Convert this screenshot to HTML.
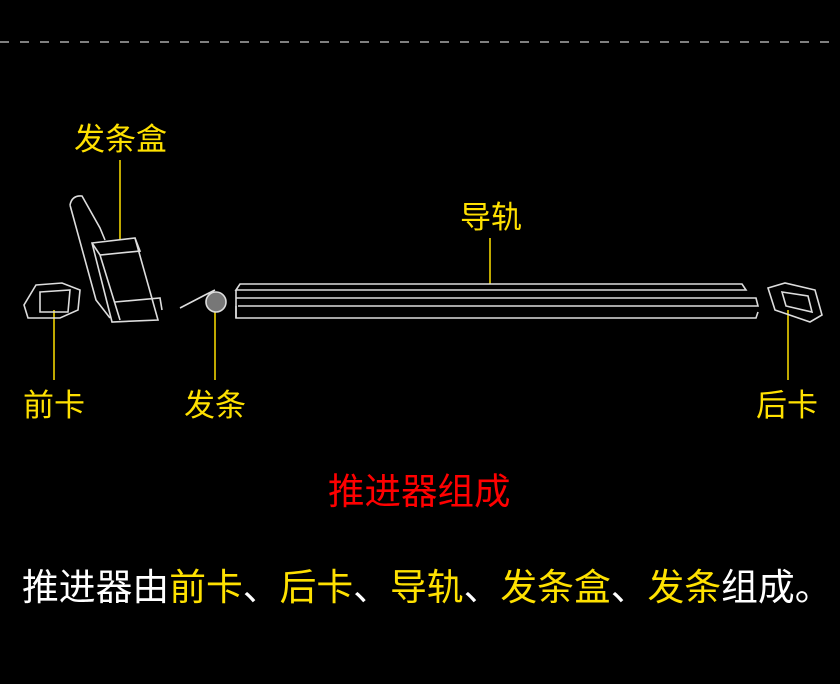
<!DOCTYPE html>
<html><head><meta charset="utf-8"><style>
html,body{margin:0;padding:0;background:#000;width:840px;height:684px;overflow:hidden}
.t{position:absolute;font-family:"Liberation Sans","Noto Sans CJK SC",sans-serif;white-space:nowrap;line-height:1}
.y{color:#ffe100;font-size:31px}
</style></head><body>
<svg width="840" height="684" style="position:absolute;left:0;top:0">
<line x1="0" y1="42" x2="840" y2="42" stroke="#aaa" stroke-width="1.5" stroke-dasharray="9,11"/>
<g stroke="#ffe100" stroke-width="1.5">
<line x1="120" y1="160" x2="120" y2="240"/>
<line x1="54" y1="310" x2="54" y2="380"/>
<line x1="215" y1="310" x2="215" y2="380"/>
<line x1="490" y1="238" x2="490" y2="284"/>
<line x1="788" y1="310" x2="788" y2="380"/>
</g>
<g fill="none" stroke="#ddd" stroke-width="1.6">
<path d="M240 284 L742 284 L746 290 L236 290 Z"/>
<path d="M236 298 L756 298 L758 306 L238 306"/>
<path d="M236 306 L236 318 L756 318 L758 312"/>
<line x1="236" y1="290" x2="236" y2="318"/>
<path d="M70 205 Q72 195 82 196 L100 228 L105 240 M70 205 L96 300 L110 318"/>
<path d="M92 243 L135 238 L158 320 L112 322 Z"/>
<path d="M92 243 L100 255 L140 251 L135 238 M100 255 L120 320"/>
<path d="M115 302 L160 298 L162 310"/>
<path d="M36 285 L62 283 L80 290 L78 310 L60 318 L28 318 L24 305 Z"/>
<path d="M40 292 L70 290 L68 312 L40 312 Z"/>
<path d="M180 308 L205 295 L215 290"/>
<circle cx="216" cy="302" r="10" fill="#777"/>
<path d="M768 288 L785 283 L815 290 L822 315 L810 322 L775 310 Z"/>
<path d="M782 292 L808 296 L812 312 L786 306 Z"/>
</g>
</svg>
<div class="t y" style="left:74px;top:124px">发条盒</div>
<div class="t y" style="left:460px;top:202px">导轨</div>
<div class="t y" style="left:23px;top:390px">前卡</div>
<div class="t y" style="left:184px;top:390px">发条</div>
<div class="t y" style="left:756px;top:390px">后卡</div>
<div class="t" style="left:328px;top:474px;color:#ff0000;font-size:36.5px">推进器组成</div>
<div class="t" style="left:22px;top:570px;font-size:36.8px;color:#fff">推进器由<span style="color:#ffe100">前卡</span>、<span style="color:#ffe100">后卡</span>、<span style="color:#ffe100">导轨</span>、<span style="color:#ffe100">发条盒</span>、<span style="color:#ffe100">发条</span>组成。</div>
</body></html>
